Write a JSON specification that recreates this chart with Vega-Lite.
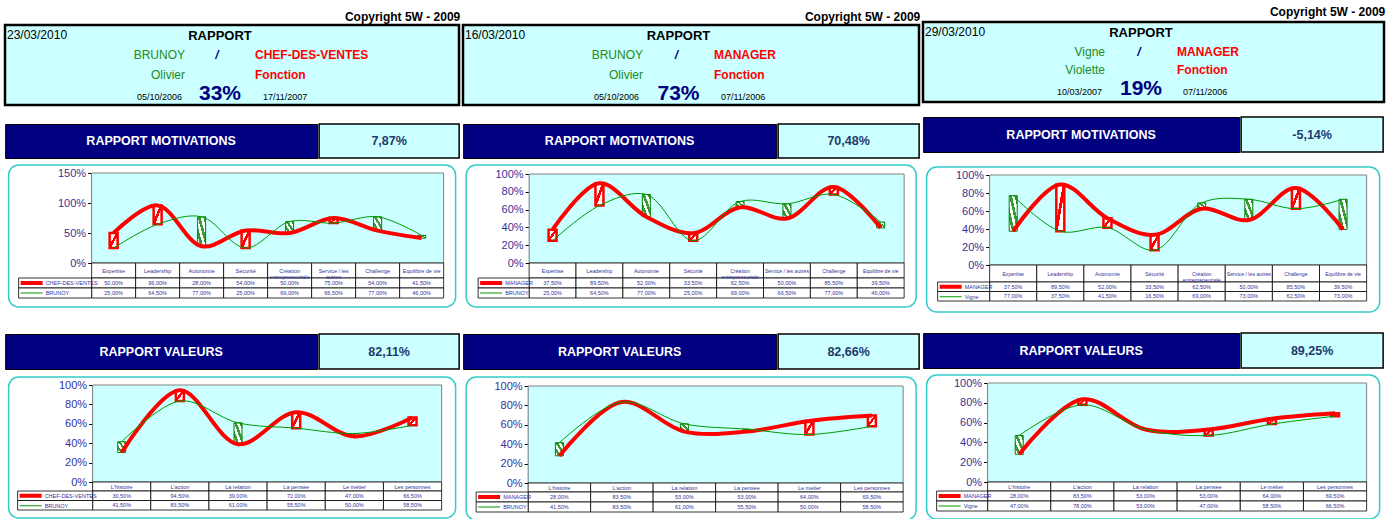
{
"$schema": "https://vega.github.io/schema/vega-lite/v6.json",
"padding": {"left": 3, "top": 5, "right": 0, "bottom": 0},
"background": "#ffffff",
"config": {
 "locale": {"number": {"decimal": ",", "thousands": " ", "grouping": [3], "currency": ["", " €"], "minus": "-"}},
 "font": "Liberation Sans"
},
"datasets": {
 "m1": [
  {"cat": "Expertise", "fonction": 0.5, "personne": 0.25},
  {"cat": "Leadership", "fonction": 0.96, "personne": 0.645},
  {"cat": "Autonomie", "fonction": 0.28, "personne": 0.77},
  {"cat": "Sécurité", "fonction": 0.54, "personne": 0.25},
  {"cat": "Création\nentrepreneuriale", "fonction": 0.5, "personne": 0.69},
  {"cat": "Service / les\nautres", "fonction": 0.75, "personne": 0.665},
  {"cat": "Challenge", "fonction": 0.54, "personne": 0.77},
  {"cat": "Equilibre de vie", "fonction": 0.415, "personne": 0.46}
 ],
 "m2": [
  {"cat": "Expertise", "fonction": 0.375, "personne": 0.25},
  {"cat": "Leadership", "fonction": 0.895, "personne": 0.645},
  {"cat": "Autonomie", "fonction": 0.52, "personne": 0.77},
  {"cat": "Sécurité", "fonction": 0.335, "personne": 0.25},
  {"cat": "Création\nentrepreneuriale", "fonction": 0.625, "personne": 0.69},
  {"cat": "Service / les autres", "fonction": 0.5, "personne": 0.665},
  {"cat": "Challenge", "fonction": 0.855, "personne": 0.77},
  {"cat": "Equilibre de vie", "fonction": 0.395, "personne": 0.46}
 ],
 "m3": [
  {"cat": "Expertise", "fonction": 0.375, "personne": 0.77},
  {"cat": "Leadership", "fonction": 0.895, "personne": 0.375},
  {"cat": "Autonomie", "fonction": 0.52, "personne": 0.415},
  {"cat": "Sécurité", "fonction": 0.335, "personne": 0.165},
  {"cat": "Création\nentrepreneuriale", "fonction": 0.625, "personne": 0.69},
  {"cat": "Service / les autres", "fonction": 0.5, "personne": 0.73},
  {"cat": "Challenge", "fonction": 0.855, "personne": 0.625},
  {"cat": "Equilibre de vie", "fonction": 0.395, "personne": 0.73}
 ],
 "v1": [
  {"cat": "L'histoire", "fonction": 0.305, "personne": 0.415},
  {"cat": "L'action", "fonction": 0.945, "personne": 0.835},
  {"cat": "La relation", "fonction": 0.39, "personne": 0.61},
  {"cat": "La pensée", "fonction": 0.72, "personne": 0.555},
  {"cat": "Le métier", "fonction": 0.47, "personne": 0.5},
  {"cat": "Les personnes", "fonction": 0.665, "personne": 0.585}
 ],
 "v2": [
  {"cat": "L'histoire", "fonction": 0.28, "personne": 0.415},
  {"cat": "L'action", "fonction": 0.835, "personne": 0.835},
  {"cat": "La relation", "fonction": 0.53, "personne": 0.61},
  {"cat": "La pensée", "fonction": 0.53, "personne": 0.555},
  {"cat": "Le métier", "fonction": 0.64, "personne": 0.5},
  {"cat": "Les personnes", "fonction": 0.695, "personne": 0.585}
 ],
 "v3": [
  {"cat": "L'histoire", "fonction": 0.28, "personne": 0.47},
  {"cat": "L'action", "fonction": 0.835, "personne": 0.78},
  {"cat": "La relation", "fonction": 0.53, "personne": 0.53},
  {"cat": "La pensée", "fonction": 0.53, "personne": 0.47},
  {"cat": "Le métier", "fonction": 0.64, "personne": 0.585},
  {"cat": "Les personnes", "fonction": 0.695, "personne": 0.665}
 ]
},
"columns": 3,
"align": "none",
"spacing": 0,
"concat": [
{
 "title": {"text": "Copyright 5W - 2009", "anchor": "end", "fontSize": 12, "fontWeight": "bold", "offset": -2, "color": "#000000"},
 "spacing": 0,
 "vconcat": [
 {"width": 1, "height": 1, "view": {"stroke": null}, "data": {"values": []}, "mark": "point"},
 {
 "spacing": 16,
 "vconcat": [
  {
   "width": 454, "height": 80,
   "view": {"stroke": "#000000", "strokeWidth": 2.5, "fill": "#CCFFFF"},
   "title": {"text": "23/03/2010", "anchor": "start", "offset": -17, "fontSize": 12, "fontWeight": "normal", "color": "#000000", "dx": 2},
   "data": {"values": [{"nom": "BRUNOY", "prenom": "Olivier", "fonction": "CHEF-DES-VENTES", "debut": "05/10/2006", "fin": "17/11/2007", "score": 0.33}]},
   "layer": [
    {"mark": {"type": "text", "text": "RAPPORT", "fontSize": 13, "fontWeight": "bold", "color": "#000000"},
     "encoding": {"x": {"datum": "M", "type": "nominal", "scale": {"type": "point", "domain": ["L", "M", "R"], "range": [180, 250], "padding": 0}, "axis": null},
                  "y": {"datum": "r1", "type": "nominal", "scale": {"type": "point", "domain": ["r1", "r2", "r3", "r4"], "range": [11, 69], "padding": 0}, "axis": null}}},
    {"mark": {"type": "text", "align": "right", "fontSize": 12, "color": "#228B22"},
     "encoding": {"x": {"datum": "L", "type": "nominal"}, "y": {"datum": "r2", "type": "nominal"}, "text": {"field": "nom"}}},
    {"mark": {"type": "text", "align": "right", "fontSize": 12, "color": "#228B22"},
     "encoding": {"x": {"datum": "L", "type": "nominal"}, "y": {"datum": "r3", "type": "nominal"}, "text": {"field": "prenom"}}},
    {"mark": {"type": "text", "text": "/", "fontSize": 12, "fontWeight": "bold", "fontStyle": "italic", "color": "#000080", "dx": -3},
     "encoding": {"x": {"datum": "M", "type": "nominal"}, "y": {"datum": "r2", "type": "nominal"}}},
    {"mark": {"type": "text", "align": "left", "fontSize": 12, "fontWeight": "bold", "color": "#FF0000"},
     "encoding": {"x": {"datum": "R", "type": "nominal"}, "y": {"datum": "r2", "type": "nominal"}, "text": {"field": "fonction"}}},
    {"mark": {"type": "text", "text": "Fonction", "align": "left", "fontSize": 12, "fontWeight": "bold", "color": "#FF0000"},
     "encoding": {"x": {"datum": "R", "type": "nominal"}, "y": {"datum": "r3", "type": "nominal"}}},
    {"mark": {"type": "text", "align": "right", "fontSize": 9, "color": "#000000", "dx": -3, "dy": 3},
     "encoding": {"x": {"datum": "L", "type": "nominal"}, "y": {"datum": "r4", "type": "nominal"}, "text": {"field": "debut"}}},
    {"mark": {"type": "text", "fontSize": 21, "fontWeight": "bold", "color": "#000080"},
     "encoding": {"x": {"datum": "M", "type": "nominal"}, "y": {"datum": "r4", "type": "nominal"}, "text": {"field": "score", "type": "quantitative", "format": ".0%"}}},
    {"mark": {"type": "text", "align": "left", "fontSize": 9, "color": "#000000", "dx": 8, "dy": 3},
     "encoding": {"x": {"datum": "R", "type": "nominal"}, "y": {"datum": "r4", "type": "nominal"}, "text": {"field": "fin"}}}
   ]
  },
  {
   "spacing": 25,
   "vconcat": [
    {
     "spacing": 5, "center": true,
     "vconcat": [
      {"spacing": 0, "hconcat": [
        {"width": 312, "height": 34, "view": {"fill": "#000080", "stroke": "#000000", "strokeWidth": 1},
         "data": {"values": [{"rubrique": "RAPPORT MOTIVATIONS"}]},
         "mark": {"type": "text", "color": "#ffffff", "fontSize": 12.5, "fontWeight": "bold"},
         "encoding": {"text": {"field": "rubrique"}}},
        {"width": 140, "height": 34, "view": {"fill": "#CCFFFF", "stroke": "#000000", "strokeWidth": 1.5},
         "data": {"values": [{"ecart": 0.0787}]},
         "mark": {"type": "text", "color": "#1F3A6E", "fontSize": 12.5, "fontWeight": "bold"},
         "encoding": {"text": {"field": "ecart", "type": "quantitative", "format": ".2%"}}}
      ]},
      {
       "width": 447, "height": 142,
       "view": {"stroke": "#33CCCC", "strokeWidth": 1.5, "cornerRadius": 10, "fill": "#ffffff"},
       "data": {"name": "m1"},
       "resolve": {"scale": {"x": "independent", "y": "independent", "color": "independent", "strokeWidth": "independent"}},
       "layer": [
        {"transform": [{"aggregate": [{"op": "count", "as": "n"}]}],
         "mark": {"type": "rect", "fill": "#CCFFFF", "stroke": "#808080", "strokeWidth": 1},
         "encoding": {
          "x": {"datum": "zone", "type": "nominal", "scale": {"type": "band", "domain": ["zone"], "range": [83, 435], "paddingInner": 0, "paddingOuter": 0}, "axis": null},
          "y": {"datum": 0, "type": "quantitative", "scale": {"domain": [0, 1.5], "range": [98, 8], "nice": false, "zero": false}, "axis": null},
          "y2": {"datum": 1.5}}},
        {"transform": [{"filter": "datum.fonction > datum.personne"}],
         "mark": {"type": "bar", "width": 8, "stroke": "#FF0000", "strokeWidth": 2.5,
                  "fill": {"gradient": "linear", "x1": 0, "y1": 0, "x2": 1, "y2": 1, "stops": [{"offset": 0, "color": "#ffffff"}, {"offset": 0.4, "color": "#ffffff"}, {"offset": 0.4, "color": "#FF0000"}, {"offset": 0.58, "color": "#FF0000"}, {"offset": 0.58, "color": "#ffffff"}, {"offset": 1, "color": "#ffffff"}]}},
         "encoding": {
          "x": {"field": "cat", "type": "nominal", "scale": {"type": "point", "domain": ["Expertise", "Leadership", "Autonomie", "Sécurité", "Création\nentrepreneuriale", "Service / les\nautres", "Challenge", "Equilibre de vie"], "range": [83, 435], "padding": 0.5}, "axis": null},
          "y": {"field": "fonction", "type": "quantitative", "scale": {"domain": [0, 1.5], "range": [98, 8], "nice": false, "zero": false}, "axis": null},
          "y2": {"field": "personne"}}},
        {"transform": [{"filter": "datum.fonction <= datum.personne"}],
         "mark": {"type": "bar", "width": 8, "stroke": "#008000", "strokeWidth": 1,
                  "fill": {"gradient": "linear", "x1": 1, "y1": 0, "x2": 0, "y2": 1, "stops": [{"offset": 0, "color": "#3A9A3A"}, {"offset": 0.16, "color": "#3A9A3A"}, {"offset": 0.16, "color": "#ffffff"}, {"offset": 0.33, "color": "#ffffff"}, {"offset": 0.33, "color": "#3A9A3A"}, {"offset": 0.5, "color": "#3A9A3A"}, {"offset": 0.5, "color": "#ffffff"}, {"offset": 0.66, "color": "#ffffff"}, {"offset": 0.66, "color": "#3A9A3A"}, {"offset": 0.83, "color": "#3A9A3A"}, {"offset": 0.83, "color": "#ffffff"}, {"offset": 1, "color": "#ffffff"}]}},
         "encoding": {
          "x": {"field": "cat", "type": "nominal", "scale": {"type": "point", "domain": ["Expertise", "Leadership", "Autonomie", "Sécurité", "Création\nentrepreneuriale", "Service / les\nautres", "Challenge", "Equilibre de vie"], "range": [83, 435], "padding": 0.5}, "axis": null},
          "y": {"field": "fonction", "type": "quantitative", "scale": {"domain": [0, 1.5], "range": [98, 8], "nice": false, "zero": false}, "axis": null},
          "y2": {"field": "personne"}}},
        {"transform": [{"fold": ["fonction", "personne"], "as": ["serie", "taux"]}],
         "mark": {"type": "line", "interpolate": "catmull-rom"},
         "encoding": {
          "x": {"field": "cat", "type": "nominal", "sort": null, "scale": {"type": "point", "domain": ["Expertise", "Leadership", "Autonomie", "Sécurité", "Création\nentrepreneuriale", "Service / les\nautres", "Challenge", "Equilibre de vie"], "range": [83, 435], "padding": 0.5}, "axis": null},
          "y": {"field": "taux", "type": "quantitative", "scale": {"domain": [0, 1.5], "range": [98, 8], "nice": false, "zero": false},
                "axis": {"orient": "left", "offset": -83, "values": [0, 0.5, 1, 1.5], "format": ".0%", "title": null, "grid": false, "labelFontSize": 11, "labelColor": "#333399", "domainColor": "#000000", "tickColor": "#000000", "tickSize": 4, "labelPadding": 2}},
          "color": {"field": "serie", "type": "nominal", "scale": {"domain": ["fonction", "personne"], "range": ["#FF0000", "#009900"]},
                    "legend": {"orient": "none", "legendX": 10, "legendY": 113, "title": null, "symbolType": "stroke", "symbolSize": 484, "clipHeight": 10, "rowPadding": 0, "labelFontSize": 5.5, "labelColor": "#333399", "labelOffset": 1, "padding": 0, "labelExpr": "datum.value == 'fonction' ? 'CHEF-DES-VENTES' : 'BRUNOY'"}},
          "strokeWidth": {"field": "serie", "type": "nominal", "scale": {"type": "point", "domain": ["fonction", "personne"], "range": [4, 1], "padding": 0},
                    "legend": {"orient": "none", "legendX": 10, "legendY": 113, "title": null, "symbolType": "stroke", "symbolSize": 484, "clipHeight": 10, "rowPadding": 0, "labelFontSize": 5.5, "labelColor": "#333399", "labelOffset": 1, "padding": 0, "labelExpr": "datum.value == 'fonction' ? 'CHEF-DES-VENTES' : 'BRUNOY'"}}}},
        {"mark": {"type": "rect", "fill": "#ffffff", "stroke": "#000000", "strokeWidth": 0.8},
         "encoding": {
          "x": {"field": "cat", "type": "nominal", "scale": {"type": "band", "domain": ["Expertise", "Leadership", "Autonomie", "Sécurité", "Création\nentrepreneuriale", "Service / les\nautres", "Challenge", "Equilibre de vie"], "range": [83, 435], "paddingInner": 0, "paddingOuter": 0}, "axis": null},
          "y": {"datum": "entete", "type": "nominal", "scale": {"type": "band", "domain": ["entete"], "range": [98, 113], "paddingInner": 0, "paddingOuter": 0}, "axis": null}}},
        {"transform": [{"fold": ["fonction", "personne"], "as": ["serie", "taux"]}],
         "mark": {"type": "rect", "fill": "#ffffff", "stroke": "#000000", "strokeWidth": 0.8},
         "encoding": {
          "x": {"field": "cat", "type": "nominal", "scale": {"type": "band", "domain": ["Expertise", "Leadership", "Autonomie", "Sécurité", "Création\nentrepreneuriale", "Service / les\nautres", "Challenge", "Equilibre de vie"], "range": [83, 435], "paddingInner": 0, "paddingOuter": 0}, "axis": null},
          "y": {"field": "serie", "type": "nominal", "scale": {"type": "band", "domain": ["fonction", "personne"], "range": [113, 133], "paddingInner": 0, "paddingOuter": 0}, "axis": null}}},
        {"transform": [{"fold": ["fonction", "personne"], "as": ["serie", "taux"]}, {"aggregate": [{"op": "count", "as": "n"}], "groupby": ["serie"]}],
         "mark": {"type": "rect", "fill": "#ffffff", "stroke": "#000000", "strokeWidth": 0.8},
         "encoding": {
          "x": {"datum": "legende", "type": "nominal", "scale": {"type": "band", "domain": ["legende"], "range": [10, 83], "paddingInner": 0, "paddingOuter": 0}, "axis": null},
          "y": {"field": "serie", "type": "nominal", "scale": {"type": "band", "domain": ["fonction", "personne"], "range": [113, 133], "paddingInner": 0, "paddingOuter": 0}, "axis": null}}},
        {"mark": {"type": "text", "fontSize": 5.5, "color": "#333399", "lineBreak": "\n", "lineHeight": 6, "baseline": "middle", "align": "center"},
         "encoding": {
          "x": {"field": "cat", "type": "nominal", "bandPosition": 0.5, "scale": {"type": "band", "domain": ["Expertise", "Leadership", "Autonomie", "Sécurité", "Création\nentrepreneuriale", "Service / les\nautres", "Challenge", "Equilibre de vie"], "range": [83, 435], "paddingInner": 0, "paddingOuter": 0}, "axis": null},
          "y": {"datum": "entete", "type": "nominal", "bandPosition": 0.5, "scale": {"type": "band", "domain": ["entete"], "range": [98, 113], "paddingInner": 0, "paddingOuter": 0}, "axis": null},
          "text": {"field": "cat"}}},
        {"transform": [{"fold": ["fonction", "personne"], "as": ["serie", "taux"]}],
         "mark": {"type": "text", "fontSize": 5.5, "color": "#333399", "baseline": "middle", "align": "center"},
         "encoding": {
          "x": {"field": "cat", "type": "nominal", "bandPosition": 0.5, "scale": {"type": "band", "domain": ["Expertise", "Leadership", "Autonomie", "Sécurité", "Création\nentrepreneuriale", "Service / les\nautres", "Challenge", "Equilibre de vie"], "range": [83, 435], "paddingInner": 0, "paddingOuter": 0}, "axis": null},
          "y": {"field": "serie", "type": "nominal", "bandPosition": 0.5, "scale": {"type": "band", "domain": ["fonction", "personne"], "range": [113, 133], "paddingInner": 0, "paddingOuter": 0}, "axis": null},
          "text": {"field": "taux", "type": "quantitative", "format": ".2%"}}}
       ]
      }
     ]
    },
    {
     "spacing": 6, "center": true,
     "vconcat": [
      {"spacing": 0, "hconcat": [
        {"width": 312, "height": 35, "view": {"fill": "#000080", "stroke": "#000000", "strokeWidth": 1},
         "data": {"values": [{"rubrique": "RAPPORT VALEURS"}]},
         "mark": {"type": "text", "color": "#ffffff", "fontSize": 12.5, "fontWeight": "bold"},
         "encoding": {"text": {"field": "rubrique"}}},
        {"width": 140, "height": 35, "view": {"fill": "#CCFFFF", "stroke": "#000000", "strokeWidth": 1.5},
         "data": {"values": [{"ecart": 0.8211}]},
         "mark": {"type": "text", "color": "#1F3A6E", "fontSize": 12.5, "fontWeight": "bold"},
         "encoding": {"text": {"field": "ecart", "type": "quantitative", "format": ".2%"}}}
      ]},
      {
       "width": 447, "height": 141,
       "view": {"stroke": "#33CCCC", "strokeWidth": 1.5, "cornerRadius": 10, "fill": "#ffffff"},
       "data": {"name": "v1"},
       "resolve": {"scale": {"x": "independent", "y": "independent", "color": "independent", "strokeWidth": "independent"}},
       "layer": [
        {"transform": [{"aggregate": [{"op": "count", "as": "n"}]}],
         "mark": {"type": "rect", "fill": "#CCFFFF", "stroke": "#808080", "strokeWidth": 1},
         "encoding": {
          "x": {"datum": "zone", "type": "nominal", "scale": {"type": "band", "domain": ["zone"], "range": [84, 433], "paddingInner": 0, "paddingOuter": 0}, "axis": null},
          "y": {"datum": 0, "type": "quantitative", "scale": {"domain": [0, 1], "range": [105, 8], "nice": false, "zero": false}, "axis": null},
          "y2": {"datum": 1}}},
        {"transform": [{"filter": "datum.fonction > datum.personne"}],
         "mark": {"type": "bar", "width": 8, "stroke": "#FF0000", "strokeWidth": 2.5,
                  "fill": {"gradient": "linear", "x1": 0, "y1": 0, "x2": 1, "y2": 1, "stops": [{"offset": 0, "color": "#ffffff"}, {"offset": 0.4, "color": "#ffffff"}, {"offset": 0.4, "color": "#FF0000"}, {"offset": 0.58, "color": "#FF0000"}, {"offset": 0.58, "color": "#ffffff"}, {"offset": 1, "color": "#ffffff"}]}},
         "encoding": {
          "x": {"field": "cat", "type": "nominal", "scale": {"type": "point", "domain": ["L'histoire", "L'action", "La relation", "La pensée", "Le métier", "Les personnes"], "range": [84, 433], "padding": 0.5}, "axis": null},
          "y": {"field": "fonction", "type": "quantitative", "scale": {"domain": [0, 1], "range": [105, 8], "nice": false, "zero": false}, "axis": null},
          "y2": {"field": "personne"}}},
        {"transform": [{"filter": "datum.fonction <= datum.personne"}],
         "mark": {"type": "bar", "width": 8, "stroke": "#008000", "strokeWidth": 1,
                  "fill": {"gradient": "linear", "x1": 1, "y1": 0, "x2": 0, "y2": 1, "stops": [{"offset": 0, "color": "#3A9A3A"}, {"offset": 0.16, "color": "#3A9A3A"}, {"offset": 0.16, "color": "#ffffff"}, {"offset": 0.33, "color": "#ffffff"}, {"offset": 0.33, "color": "#3A9A3A"}, {"offset": 0.5, "color": "#3A9A3A"}, {"offset": 0.5, "color": "#ffffff"}, {"offset": 0.66, "color": "#ffffff"}, {"offset": 0.66, "color": "#3A9A3A"}, {"offset": 0.83, "color": "#3A9A3A"}, {"offset": 0.83, "color": "#ffffff"}, {"offset": 1, "color": "#ffffff"}]}},
         "encoding": {
          "x": {"field": "cat", "type": "nominal", "scale": {"type": "point", "domain": ["L'histoire", "L'action", "La relation", "La pensée", "Le métier", "Les personnes"], "range": [84, 433], "padding": 0.5}, "axis": null},
          "y": {"field": "fonction", "type": "quantitative", "scale": {"domain": [0, 1], "range": [105, 8], "nice": false, "zero": false}, "axis": null},
          "y2": {"field": "personne"}}},
        {"transform": [{"fold": ["fonction", "personne"], "as": ["serie", "taux"]}],
         "mark": {"type": "line", "interpolate": "catmull-rom"},
         "encoding": {
          "x": {"field": "cat", "type": "nominal", "sort": null, "scale": {"type": "point", "domain": ["L'histoire", "L'action", "La relation", "La pensée", "Le métier", "Les personnes"], "range": [84, 433], "padding": 0.5}, "axis": null},
          "y": {"field": "taux", "type": "quantitative", "scale": {"domain": [0, 1], "range": [105, 8], "nice": false, "zero": false},
                "axis": {"orient": "left", "offset": -84, "values": [0, 0.2, 0.4, 0.6, 0.8, 1], "format": ".0%", "title": null, "grid": false, "labelFontSize": 11, "labelColor": "#333399", "domainColor": "#000000", "tickColor": "#000000", "tickSize": 4, "labelPadding": 2}},
          "color": {"field": "serie", "type": "nominal", "scale": {"domain": ["fonction", "personne"], "range": ["#FF0000", "#009900"]},
                    "legend": {"orient": "none", "legendX": 9, "legendY": 114, "title": null, "symbolType": "stroke", "symbolSize": 484, "clipHeight": 9.5, "rowPadding": 0, "labelFontSize": 5.5, "labelColor": "#333399", "labelOffset": 1, "padding": 0, "labelExpr": "datum.value == 'fonction' ? 'CHEF-DES-VENTES' : 'BRUNOY'"}},
          "strokeWidth": {"field": "serie", "type": "nominal", "scale": {"type": "point", "domain": ["fonction", "personne"], "range": [4, 1], "padding": 0},
                    "legend": {"orient": "none", "legendX": 9, "legendY": 114, "title": null, "symbolType": "stroke", "symbolSize": 484, "clipHeight": 9.5, "rowPadding": 0, "labelFontSize": 5.5, "labelColor": "#333399", "labelOffset": 1, "padding": 0, "labelExpr": "datum.value == 'fonction' ? 'CHEF-DES-VENTES' : 'BRUNOY'"}}}},
        {"mark": {"type": "rect", "fill": "#ffffff", "stroke": "#000000", "strokeWidth": 0.8},
         "encoding": {
          "x": {"field": "cat", "type": "nominal", "scale": {"type": "band", "domain": ["L'histoire", "L'action", "La relation", "La pensée", "Le métier", "Les personnes"], "range": [84, 433], "paddingInner": 0, "paddingOuter": 0}, "axis": null},
          "y": {"datum": "entete", "type": "nominal", "scale": {"type": "band", "domain": ["entete"], "range": [105, 114], "paddingInner": 0, "paddingOuter": 0}, "axis": null}}},
        {"transform": [{"fold": ["fonction", "personne"], "as": ["serie", "taux"]}],
         "mark": {"type": "rect", "fill": "#ffffff", "stroke": "#000000", "strokeWidth": 0.8},
         "encoding": {
          "x": {"field": "cat", "type": "nominal", "scale": {"type": "band", "domain": ["L'histoire", "L'action", "La relation", "La pensée", "Le métier", "Les personnes"], "range": [84, 433], "paddingInner": 0, "paddingOuter": 0}, "axis": null},
          "y": {"field": "serie", "type": "nominal", "scale": {"type": "band", "domain": ["fonction", "personne"], "range": [114, 133], "paddingInner": 0, "paddingOuter": 0}, "axis": null}}},
        {"transform": [{"fold": ["fonction", "personne"], "as": ["serie", "taux"]}, {"aggregate": [{"op": "count", "as": "n"}], "groupby": ["serie"]}],
         "mark": {"type": "rect", "fill": "#ffffff", "stroke": "#000000", "strokeWidth": 0.8},
         "encoding": {
          "x": {"datum": "legende", "type": "nominal", "scale": {"type": "band", "domain": ["legende"], "range": [9, 84], "paddingInner": 0, "paddingOuter": 0}, "axis": null},
          "y": {"field": "serie", "type": "nominal", "scale": {"type": "band", "domain": ["fonction", "personne"], "range": [114, 133], "paddingInner": 0, "paddingOuter": 0}, "axis": null}}},
        {"mark": {"type": "text", "fontSize": 5.5, "color": "#333399", "baseline": "middle", "align": "center"},
         "encoding": {
          "x": {"field": "cat", "type": "nominal", "bandPosition": 0.5, "scale": {"type": "band", "domain": ["L'histoire", "L'action", "La relation", "La pensée", "Le métier", "Les personnes"], "range": [84, 433], "paddingInner": 0, "paddingOuter": 0}, "axis": null},
          "y": {"datum": "entete", "type": "nominal", "bandPosition": 0.5, "scale": {"type": "band", "domain": ["entete"], "range": [105, 114], "paddingInner": 0, "paddingOuter": 0}, "axis": null},
          "text": {"field": "cat"}}},
        {"transform": [{"fold": ["fonction", "personne"], "as": ["serie", "taux"]}],
         "mark": {"type": "text", "fontSize": 5.5, "color": "#333399", "baseline": "middle", "align": "center"},
         "encoding": {
          "x": {"field": "cat", "type": "nominal", "bandPosition": 0.5, "scale": {"type": "band", "domain": ["L'histoire", "L'action", "La relation", "La pensée", "Le métier", "Les personnes"], "range": [84, 433], "paddingInner": 0, "paddingOuter": 0}, "axis": null},
          "y": {"field": "serie", "type": "nominal", "bandPosition": 0.5, "scale": {"type": "band", "domain": ["fonction", "personne"], "range": [114, 133], "paddingInner": 0, "paddingOuter": 0}, "axis": null},
          "text": {"field": "taux", "type": "quantitative", "format": ".2%"}}}
       ]
      }
     ]
    }
   ]
  }
 ]
 }
 ]
},
{
 "title": {"text": "Copyright 5W - 2009", "anchor": "end", "fontSize": 12, "fontWeight": "bold", "offset": -2, "color": "#000000"},
 "spacing": 0,
 "vconcat": [
 {"width": 1, "height": 1, "view": {"stroke": null}, "data": {"values": []}, "mark": "point"},
 {
 "spacing": 16,
 "vconcat": [
  {
   "width": 456, "height": 80,
   "view": {"stroke": "#000000", "strokeWidth": 2.5, "fill": "#CCFFFF"},
   "title": {"text": "16/03/2010", "anchor": "start", "offset": -17, "fontSize": 12, "fontWeight": "normal", "color": "#000000", "dx": 2},
   "data": {"values": [{"nom": "BRUNOY", "prenom": "Olivier", "fonction": "MANAGER", "debut": "05/10/2006", "fin": "07/11/2006", "score": 0.73}]},
   "layer": [
    {"mark": {"type": "text", "text": "RAPPORT", "fontSize": 13, "fontWeight": "bold", "color": "#000000"},
     "encoding": {"x": {"datum": "M", "type": "nominal", "scale": {"type": "point", "domain": ["L", "M", "R"], "range": [180, 251], "padding": 0}, "axis": null},
                  "y": {"datum": "r1", "type": "nominal", "scale": {"type": "point", "domain": ["r1", "r2", "r3", "r4"], "range": [11, 69], "padding": 0}, "axis": null}}},
    {"mark": {"type": "text", "align": "right", "fontSize": 12, "color": "#228B22"},
     "encoding": {"x": {"datum": "L", "type": "nominal"}, "y": {"datum": "r2", "type": "nominal"}, "text": {"field": "nom"}}},
    {"mark": {"type": "text", "align": "right", "fontSize": 12, "color": "#228B22"},
     "encoding": {"x": {"datum": "L", "type": "nominal"}, "y": {"datum": "r3", "type": "nominal"}, "text": {"field": "prenom"}}},
    {"mark": {"type": "text", "text": "/", "fontSize": 12, "fontWeight": "bold", "fontStyle": "italic", "color": "#000080", "dx": -2},
     "encoding": {"x": {"datum": "M", "type": "nominal"}, "y": {"datum": "r2", "type": "nominal"}}},
    {"mark": {"type": "text", "align": "left", "fontSize": 12, "fontWeight": "bold", "color": "#FF0000"},
     "encoding": {"x": {"datum": "R", "type": "nominal"}, "y": {"datum": "r2", "type": "nominal"}, "text": {"field": "fonction"}}},
    {"mark": {"type": "text", "text": "Fonction", "align": "left", "fontSize": 12, "fontWeight": "bold", "color": "#FF0000"},
     "encoding": {"x": {"datum": "R", "type": "nominal"}, "y": {"datum": "r3", "type": "nominal"}}},
    {"mark": {"type": "text", "align": "right", "fontSize": 9, "color": "#000000", "dx": -4, "dy": 3},
     "encoding": {"x": {"datum": "L", "type": "nominal"}, "y": {"datum": "r4", "type": "nominal"}, "text": {"field": "debut"}}},
    {"mark": {"type": "text", "fontSize": 21, "fontWeight": "bold", "color": "#000080"},
     "encoding": {"x": {"datum": "M", "type": "nominal"}, "y": {"datum": "r4", "type": "nominal"}, "text": {"field": "score", "type": "quantitative", "format": ".0%"}}},
    {"mark": {"type": "text", "align": "left", "fontSize": 9, "color": "#000000", "dx": 7, "dy": 3},
     "encoding": {"x": {"datum": "R", "type": "nominal"}, "y": {"datum": "r4", "type": "nominal"}, "text": {"field": "fin"}}}
   ]
  },
  {
   "spacing": 25,
   "vconcat": [
    {
     "spacing": 5, "center": true,
     "vconcat": [
      {"spacing": 0, "hconcat": [
        {"width": 313, "height": 34, "view": {"fill": "#000080", "stroke": "#000000", "strokeWidth": 1},
         "data": {"values": [{"rubrique": "RAPPORT MOTIVATIONS"}]},
         "mark": {"type": "text", "color": "#ffffff", "fontSize": 12.5, "fontWeight": "bold"},
         "encoding": {"text": {"field": "rubrique"}}},
        {"width": 141, "height": 34, "view": {"fill": "#CCFFFF", "stroke": "#000000", "strokeWidth": 1.5},
         "data": {"values": [{"ecart": 0.7048}]},
         "mark": {"type": "text", "color": "#1F3A6E", "fontSize": 12.5, "fontWeight": "bold"},
         "encoding": {"text": {"field": "ecart", "type": "quantitative", "format": ".2%"}}}
      ]},
      {
       "width": 450, "height": 142,
       "view": {"stroke": "#33CCCC", "strokeWidth": 1.5, "cornerRadius": 10, "fill": "#ffffff"},
       "data": {"name": "m2"},
       "resolve": {"scale": {"x": "independent", "y": "independent", "color": "independent", "strokeWidth": "independent"}},
       "layer": [
        {"transform": [{"aggregate": [{"op": "count", "as": "n"}]}],
         "mark": {"type": "rect", "fill": "#CCFFFF", "stroke": "#808080", "strokeWidth": 1},
         "encoding": {
          "x": {"datum": "zone", "type": "nominal", "scale": {"type": "band", "domain": ["zone"], "range": [63, 438], "paddingInner": 0, "paddingOuter": 0}, "axis": null},
          "y": {"datum": 0, "type": "quantitative", "scale": {"domain": [0, 1], "range": [98, 9], "nice": false, "zero": false}, "axis": null},
          "y2": {"datum": 1}}},
        {"transform": [{"filter": "datum.fonction > datum.personne"}],
         "mark": {"type": "bar", "width": 8, "stroke": "#FF0000", "strokeWidth": 2.5,
                  "fill": {"gradient": "linear", "x1": 0, "y1": 0, "x2": 1, "y2": 1, "stops": [{"offset": 0, "color": "#ffffff"}, {"offset": 0.4, "color": "#ffffff"}, {"offset": 0.4, "color": "#FF0000"}, {"offset": 0.58, "color": "#FF0000"}, {"offset": 0.58, "color": "#ffffff"}, {"offset": 1, "color": "#ffffff"}]}},
         "encoding": {
          "x": {"field": "cat", "type": "nominal", "scale": {"type": "point", "domain": ["Expertise", "Leadership", "Autonomie", "Sécurité", "Création\nentrepreneuriale", "Service / les autres", "Challenge", "Equilibre de vie"], "range": [63, 438], "padding": 0.5}, "axis": null},
          "y": {"field": "fonction", "type": "quantitative", "scale": {"domain": [0, 1], "range": [98, 9], "nice": false, "zero": false}, "axis": null},
          "y2": {"field": "personne"}}},
        {"transform": [{"filter": "datum.fonction <= datum.personne"}],
         "mark": {"type": "bar", "width": 8, "stroke": "#008000", "strokeWidth": 1,
                  "fill": {"gradient": "linear", "x1": 1, "y1": 0, "x2": 0, "y2": 1, "stops": [{"offset": 0, "color": "#3A9A3A"}, {"offset": 0.16, "color": "#3A9A3A"}, {"offset": 0.16, "color": "#ffffff"}, {"offset": 0.33, "color": "#ffffff"}, {"offset": 0.33, "color": "#3A9A3A"}, {"offset": 0.5, "color": "#3A9A3A"}, {"offset": 0.5, "color": "#ffffff"}, {"offset": 0.66, "color": "#ffffff"}, {"offset": 0.66, "color": "#3A9A3A"}, {"offset": 0.83, "color": "#3A9A3A"}, {"offset": 0.83, "color": "#ffffff"}, {"offset": 1, "color": "#ffffff"}]}},
         "encoding": {
          "x": {"field": "cat", "type": "nominal", "scale": {"type": "point", "domain": ["Expertise", "Leadership", "Autonomie", "Sécurité", "Création\nentrepreneuriale", "Service / les autres", "Challenge", "Equilibre de vie"], "range": [63, 438], "padding": 0.5}, "axis": null},
          "y": {"field": "fonction", "type": "quantitative", "scale": {"domain": [0, 1], "range": [98, 9], "nice": false, "zero": false}, "axis": null},
          "y2": {"field": "personne"}}},
        {"transform": [{"fold": ["fonction", "personne"], "as": ["serie", "taux"]}],
         "mark": {"type": "line", "interpolate": "catmull-rom"},
         "encoding": {
          "x": {"field": "cat", "type": "nominal", "sort": null, "scale": {"type": "point", "domain": ["Expertise", "Leadership", "Autonomie", "Sécurité", "Création\nentrepreneuriale", "Service / les autres", "Challenge", "Equilibre de vie"], "range": [63, 438], "padding": 0.5}, "axis": null},
          "y": {"field": "taux", "type": "quantitative", "scale": {"domain": [0, 1], "range": [98, 9], "nice": false, "zero": false},
                "axis": {"orient": "left", "offset": -63, "values": [0, 0.2, 0.4, 0.6, 0.8, 1], "format": ".0%", "title": null, "grid": false, "labelFontSize": 11, "labelColor": "#333399", "domainColor": "#000000", "tickColor": "#000000", "tickSize": 4, "labelPadding": 2}},
          "color": {"field": "serie", "type": "nominal", "scale": {"domain": ["fonction", "personne"], "range": ["#FF0000", "#009900"]},
                    "legend": {"orient": "none", "legendX": 12, "legendY": 113, "title": null, "symbolType": "stroke", "symbolSize": 484, "clipHeight": 10, "rowPadding": 0, "labelFontSize": 5.5, "labelColor": "#333399", "labelOffset": 1, "padding": 0, "labelExpr": "datum.value == 'fonction' ? 'MANAGER' : 'BRUNOY'"}},
          "strokeWidth": {"field": "serie", "type": "nominal", "scale": {"type": "point", "domain": ["fonction", "personne"], "range": [4, 1], "padding": 0},
                    "legend": {"orient": "none", "legendX": 12, "legendY": 113, "title": null, "symbolType": "stroke", "symbolSize": 484, "clipHeight": 10, "rowPadding": 0, "labelFontSize": 5.5, "labelColor": "#333399", "labelOffset": 1, "padding": 0, "labelExpr": "datum.value == 'fonction' ? 'MANAGER' : 'BRUNOY'"}}}},
        {"mark": {"type": "rect", "fill": "#ffffff", "stroke": "#000000", "strokeWidth": 0.8},
         "encoding": {
          "x": {"field": "cat", "type": "nominal", "scale": {"type": "band", "domain": ["Expertise", "Leadership", "Autonomie", "Sécurité", "Création\nentrepreneuriale", "Service / les autres", "Challenge", "Equilibre de vie"], "range": [63, 438], "paddingInner": 0, "paddingOuter": 0}, "axis": null},
          "y": {"datum": "entete", "type": "nominal", "scale": {"type": "band", "domain": ["entete"], "range": [98, 113], "paddingInner": 0, "paddingOuter": 0}, "axis": null}}},
        {"transform": [{"fold": ["fonction", "personne"], "as": ["serie", "taux"]}],
         "mark": {"type": "rect", "fill": "#ffffff", "stroke": "#000000", "strokeWidth": 0.8},
         "encoding": {
          "x": {"field": "cat", "type": "nominal", "scale": {"type": "band", "domain": ["Expertise", "Leadership", "Autonomie", "Sécurité", "Création\nentrepreneuriale", "Service / les autres", "Challenge", "Equilibre de vie"], "range": [63, 438], "paddingInner": 0, "paddingOuter": 0}, "axis": null},
          "y": {"field": "serie", "type": "nominal", "scale": {"type": "band", "domain": ["fonction", "personne"], "range": [113, 133], "paddingInner": 0, "paddingOuter": 0}, "axis": null}}},
        {"transform": [{"fold": ["fonction", "personne"], "as": ["serie", "taux"]}, {"aggregate": [{"op": "count", "as": "n"}], "groupby": ["serie"]}],
         "mark": {"type": "rect", "fill": "#ffffff", "stroke": "#000000", "strokeWidth": 0.8},
         "encoding": {
          "x": {"datum": "legende", "type": "nominal", "scale": {"type": "band", "domain": ["legende"], "range": [12, 63], "paddingInner": 0, "paddingOuter": 0}, "axis": null},
          "y": {"field": "serie", "type": "nominal", "scale": {"type": "band", "domain": ["fonction", "personne"], "range": [113, 133], "paddingInner": 0, "paddingOuter": 0}, "axis": null}}},
        {"mark": {"type": "text", "fontSize": 5.2, "color": "#333399", "lineBreak": "\n", "lineHeight": 6, "baseline": "middle", "align": "center"},
         "encoding": {
          "x": {"field": "cat", "type": "nominal", "bandPosition": 0.5, "scale": {"type": "band", "domain": ["Expertise", "Leadership", "Autonomie", "Sécurité", "Création\nentrepreneuriale", "Service / les autres", "Challenge", "Equilibre de vie"], "range": [63, 438], "paddingInner": 0, "paddingOuter": 0}, "axis": null},
          "y": {"datum": "entete", "type": "nominal", "bandPosition": 0.5, "scale": {"type": "band", "domain": ["entete"], "range": [98, 113], "paddingInner": 0, "paddingOuter": 0}, "axis": null},
          "text": {"field": "cat"}}},
        {"transform": [{"fold": ["fonction", "personne"], "as": ["serie", "taux"]}],
         "mark": {"type": "text", "fontSize": 5.5, "color": "#333399", "baseline": "middle", "align": "center"},
         "encoding": {
          "x": {"field": "cat", "type": "nominal", "bandPosition": 0.5, "scale": {"type": "band", "domain": ["Expertise", "Leadership", "Autonomie", "Sécurité", "Création\nentrepreneuriale", "Service / les autres", "Challenge", "Equilibre de vie"], "range": [63, 438], "paddingInner": 0, "paddingOuter": 0}, "axis": null},
          "y": {"field": "serie", "type": "nominal", "bandPosition": 0.5, "scale": {"type": "band", "domain": ["fonction", "personne"], "range": [113, 133], "paddingInner": 0, "paddingOuter": 0}, "axis": null},
          "text": {"field": "taux", "type": "quantitative", "format": ".2%"}}}
       ]
      }
     ]
    },
    {
     "spacing": 6, "center": true,
     "vconcat": [
      {"spacing": 0, "hconcat": [
        {"width": 313, "height": 35, "view": {"fill": "#000080", "stroke": "#000000", "strokeWidth": 1},
         "data": {"values": [{"rubrique": "RAPPORT VALEURS"}]},
         "mark": {"type": "text", "color": "#ffffff", "fontSize": 12.5, "fontWeight": "bold"},
         "encoding": {"text": {"field": "rubrique"}}},
        {"width": 141, "height": 35, "view": {"fill": "#CCFFFF", "stroke": "#000000", "strokeWidth": 1.5},
         "data": {"values": [{"ecart": 0.8266}]},
         "mark": {"type": "text", "color": "#1F3A6E", "fontSize": 12.5, "fontWeight": "bold"},
         "encoding": {"text": {"field": "ecart", "type": "quantitative", "format": ".2%"}}}
      ]},
      {
       "width": 450, "height": 143,
       "view": {"stroke": "#33CCCC", "strokeWidth": 1.5, "cornerRadius": 10, "fill": "#ffffff"},
       "data": {"name": "v2"},
       "resolve": {"scale": {"x": "independent", "y": "independent", "color": "independent", "strokeWidth": "independent"}},
       "layer": [
        {"transform": [{"aggregate": [{"op": "count", "as": "n"}]}],
         "mark": {"type": "rect", "fill": "#CCFFFF", "stroke": "#808080", "strokeWidth": 1},
         "encoding": {
          "x": {"datum": "zone", "type": "nominal", "scale": {"type": "band", "domain": ["zone"], "range": [62, 437], "paddingInner": 0, "paddingOuter": 0}, "axis": null},
          "y": {"datum": 0, "type": "quantitative", "scale": {"domain": [0, 1], "range": [106, 9], "nice": false, "zero": false}, "axis": null},
          "y2": {"datum": 1}}},
        {"transform": [{"filter": "datum.fonction > datum.personne"}],
         "mark": {"type": "bar", "width": 8, "stroke": "#FF0000", "strokeWidth": 2.5,
                  "fill": {"gradient": "linear", "x1": 0, "y1": 0, "x2": 1, "y2": 1, "stops": [{"offset": 0, "color": "#ffffff"}, {"offset": 0.4, "color": "#ffffff"}, {"offset": 0.4, "color": "#FF0000"}, {"offset": 0.58, "color": "#FF0000"}, {"offset": 0.58, "color": "#ffffff"}, {"offset": 1, "color": "#ffffff"}]}},
         "encoding": {
          "x": {"field": "cat", "type": "nominal", "scale": {"type": "point", "domain": ["L'histoire", "L'action", "La relation", "La pensée", "Le métier", "Les personnes"], "range": [62, 437], "padding": 0.5}, "axis": null},
          "y": {"field": "fonction", "type": "quantitative", "scale": {"domain": [0, 1], "range": [106, 9], "nice": false, "zero": false}, "axis": null},
          "y2": {"field": "personne"}}},
        {"transform": [{"filter": "datum.fonction <= datum.personne"}],
         "mark": {"type": "bar", "width": 8, "stroke": "#008000", "strokeWidth": 1,
                  "fill": {"gradient": "linear", "x1": 1, "y1": 0, "x2": 0, "y2": 1, "stops": [{"offset": 0, "color": "#3A9A3A"}, {"offset": 0.16, "color": "#3A9A3A"}, {"offset": 0.16, "color": "#ffffff"}, {"offset": 0.33, "color": "#ffffff"}, {"offset": 0.33, "color": "#3A9A3A"}, {"offset": 0.5, "color": "#3A9A3A"}, {"offset": 0.5, "color": "#ffffff"}, {"offset": 0.66, "color": "#ffffff"}, {"offset": 0.66, "color": "#3A9A3A"}, {"offset": 0.83, "color": "#3A9A3A"}, {"offset": 0.83, "color": "#ffffff"}, {"offset": 1, "color": "#ffffff"}]}},
         "encoding": {
          "x": {"field": "cat", "type": "nominal", "scale": {"type": "point", "domain": ["L'histoire", "L'action", "La relation", "La pensée", "Le métier", "Les personnes"], "range": [62, 437], "padding": 0.5}, "axis": null},
          "y": {"field": "fonction", "type": "quantitative", "scale": {"domain": [0, 1], "range": [106, 9], "nice": false, "zero": false}, "axis": null},
          "y2": {"field": "personne"}}},
        {"transform": [{"fold": ["fonction", "personne"], "as": ["serie", "taux"]}],
         "mark": {"type": "line", "interpolate": "catmull-rom"},
         "encoding": {
          "x": {"field": "cat", "type": "nominal", "sort": null, "scale": {"type": "point", "domain": ["L'histoire", "L'action", "La relation", "La pensée", "Le métier", "Les personnes"], "range": [62, 437], "padding": 0.5}, "axis": null},
          "y": {"field": "taux", "type": "quantitative", "scale": {"domain": [0, 1], "range": [106, 9], "nice": false, "zero": false},
                "axis": {"orient": "left", "offset": -62, "values": [0, 0.2, 0.4, 0.6, 0.8, 1], "format": ".0%", "title": null, "grid": false, "labelFontSize": 11, "labelColor": "#333399", "domainColor": "#000000", "tickColor": "#000000", "tickSize": 4, "labelPadding": 2}},
          "color": {"field": "serie", "type": "nominal", "scale": {"domain": ["fonction", "personne"], "range": ["#FF0000", "#009900"]},
                    "legend": {"orient": "none", "legendX": 10, "legendY": 115, "title": null, "symbolType": "stroke", "symbolSize": 484, "clipHeight": 10, "rowPadding": 0, "labelFontSize": 5.5, "labelColor": "#333399", "labelOffset": 1, "padding": 0, "labelExpr": "datum.value == 'fonction' ? 'MANAGER' : 'BRUNOY'"}},
          "strokeWidth": {"field": "serie", "type": "nominal", "scale": {"type": "point", "domain": ["fonction", "personne"], "range": [4, 1], "padding": 0},
                    "legend": {"orient": "none", "legendX": 10, "legendY": 115, "title": null, "symbolType": "stroke", "symbolSize": 484, "clipHeight": 10, "rowPadding": 0, "labelFontSize": 5.5, "labelColor": "#333399", "labelOffset": 1, "padding": 0, "labelExpr": "datum.value == 'fonction' ? 'MANAGER' : 'BRUNOY'"}}}},
        {"mark": {"type": "rect", "fill": "#ffffff", "stroke": "#000000", "strokeWidth": 0.8},
         "encoding": {
          "x": {"field": "cat", "type": "nominal", "scale": {"type": "band", "domain": ["L'histoire", "L'action", "La relation", "La pensée", "Le métier", "Les personnes"], "range": [62, 437], "paddingInner": 0, "paddingOuter": 0}, "axis": null},
          "y": {"datum": "entete", "type": "nominal", "scale": {"type": "band", "domain": ["entete"], "range": [106, 115], "paddingInner": 0, "paddingOuter": 0}, "axis": null}}},
        {"transform": [{"fold": ["fonction", "personne"], "as": ["serie", "taux"]}],
         "mark": {"type": "rect", "fill": "#ffffff", "stroke": "#000000", "strokeWidth": 0.8},
         "encoding": {
          "x": {"field": "cat", "type": "nominal", "scale": {"type": "band", "domain": ["L'histoire", "L'action", "La relation", "La pensée", "Le métier", "Les personnes"], "range": [62, 437], "paddingInner": 0, "paddingOuter": 0}, "axis": null},
          "y": {"field": "serie", "type": "nominal", "scale": {"type": "band", "domain": ["fonction", "personne"], "range": [115, 135], "paddingInner": 0, "paddingOuter": 0}, "axis": null}}},
        {"transform": [{"fold": ["fonction", "personne"], "as": ["serie", "taux"]}, {"aggregate": [{"op": "count", "as": "n"}], "groupby": ["serie"]}],
         "mark": {"type": "rect", "fill": "#ffffff", "stroke": "#000000", "strokeWidth": 0.8},
         "encoding": {
          "x": {"datum": "legende", "type": "nominal", "scale": {"type": "band", "domain": ["legende"], "range": [10, 62], "paddingInner": 0, "paddingOuter": 0}, "axis": null},
          "y": {"field": "serie", "type": "nominal", "scale": {"type": "band", "domain": ["fonction", "personne"], "range": [115, 135], "paddingInner": 0, "paddingOuter": 0}, "axis": null}}},
        {"mark": {"type": "text", "fontSize": 5.5, "color": "#333399", "baseline": "middle", "align": "center"},
         "encoding": {
          "x": {"field": "cat", "type": "nominal", "bandPosition": 0.5, "scale": {"type": "band", "domain": ["L'histoire", "L'action", "La relation", "La pensée", "Le métier", "Les personnes"], "range": [62, 437], "paddingInner": 0, "paddingOuter": 0}, "axis": null},
          "y": {"datum": "entete", "type": "nominal", "bandPosition": 0.5, "scale": {"type": "band", "domain": ["entete"], "range": [106, 115], "paddingInner": 0, "paddingOuter": 0}, "axis": null},
          "text": {"field": "cat"}}},
        {"transform": [{"fold": ["fonction", "personne"], "as": ["serie", "taux"]}],
         "mark": {"type": "text", "fontSize": 5.5, "color": "#333399", "baseline": "middle", "align": "center"},
         "encoding": {
          "x": {"field": "cat", "type": "nominal", "bandPosition": 0.5, "scale": {"type": "band", "domain": ["L'histoire", "L'action", "La relation", "La pensée", "Le métier", "Les personnes"], "range": [62, 437], "paddingInner": 0, "paddingOuter": 0}, "axis": null},
          "y": {"field": "serie", "type": "nominal", "bandPosition": 0.5, "scale": {"type": "band", "domain": ["fonction", "personne"], "range": [115, 135], "paddingInner": 0, "paddingOuter": 0}, "axis": null},
          "text": {"field": "taux", "type": "quantitative", "format": ".2%"}}}
       ]
      }
     ]
    }
   ]
  }
 ]
 }
 ]
},
{
 "title": {"text": "Copyright 5W - 2009", "anchor": "end", "fontSize": 12, "fontWeight": "bold", "offset": 2, "color": "#000000"},
 "spacing": 12,
 "vconcat": [
  {
   "width": 461, "height": 80,
   "view": {"stroke": "#000000", "strokeWidth": 2.5, "fill": "#CCFFFF"},
   "title": {"text": "29/03/2010", "anchor": "start", "offset": -17, "fontSize": 12, "fontWeight": "normal", "color": "#000000", "dx": 2},
   "data": {"values": [{"nom": "Vigne", "prenom": "Violette", "fonction": "MANAGER", "debut": "10/03/2007", "fin": "07/11/2006", "score": 0.19}]},
   "layer": [
    {"mark": {"type": "text", "text": "RAPPORT", "fontSize": 13, "fontWeight": "bold", "color": "#000000"},
     "encoding": {"x": {"datum": "M", "type": "nominal", "scale": {"type": "point", "domain": ["L", "M", "R"], "range": [182, 254], "padding": 0}, "axis": null},
                  "y": {"datum": "r1", "type": "nominal", "scale": {"type": "point", "domain": ["r1", "r2", "r3", "r4"], "range": [11, 67], "padding": 0}, "axis": null}}},
    {"mark": {"type": "text", "align": "right", "fontSize": 12, "color": "#228B22"},
     "encoding": {"x": {"datum": "L", "type": "nominal"}, "y": {"datum": "r2", "type": "nominal"}, "text": {"field": "nom"}}},
    {"mark": {"type": "text", "align": "right", "fontSize": 12, "color": "#228B22"},
     "encoding": {"x": {"datum": "L", "type": "nominal"}, "y": {"datum": "r3", "type": "nominal"}, "text": {"field": "prenom"}}},
    {"mark": {"type": "text", "text": "/", "fontSize": 12, "fontWeight": "bold", "fontStyle": "italic", "color": "#000080", "dx": -2},
     "encoding": {"x": {"datum": "M", "type": "nominal"}, "y": {"datum": "r2", "type": "nominal"}}},
    {"mark": {"type": "text", "align": "left", "fontSize": 12, "fontWeight": "bold", "color": "#FF0000"},
     "encoding": {"x": {"datum": "R", "type": "nominal"}, "y": {"datum": "r2", "type": "nominal"}, "text": {"field": "fonction"}}},
    {"mark": {"type": "text", "text": "Fonction", "align": "left", "fontSize": 12, "fontWeight": "bold", "color": "#FF0000"},
     "encoding": {"x": {"datum": "R", "type": "nominal"}, "y": {"datum": "r3", "type": "nominal"}}},
    {"mark": {"type": "text", "align": "right", "fontSize": 9, "color": "#000000", "dx": -3, "dy": 3},
     "encoding": {"x": {"datum": "L", "type": "nominal"}, "y": {"datum": "r4", "type": "nominal"}, "text": {"field": "debut"}}},
    {"mark": {"type": "text", "fontSize": 21, "fontWeight": "bold", "color": "#000080"},
     "encoding": {"x": {"datum": "M", "type": "nominal"}, "y": {"datum": "r4", "type": "nominal"}, "text": {"field": "score", "type": "quantitative", "format": ".0%"}}},
    {"mark": {"type": "text", "align": "left", "fontSize": 9, "color": "#000000", "dx": 6, "dy": 3},
     "encoding": {"x": {"datum": "R", "type": "nominal"}, "y": {"datum": "r4", "type": "nominal"}, "text": {"field": "fin"}}}
   ]
  },
  {
   "spacing": 19,
   "vconcat": [
    {
     "spacing": 13, "center": true,
     "vconcat": [
      {"spacing": 0, "hconcat": [
        {"width": 316, "height": 35, "view": {"fill": "#000080", "stroke": "#000000", "strokeWidth": 1},
         "data": {"values": [{"rubrique": "RAPPORT MOTIVATIONS"}]},
         "mark": {"type": "text", "color": "#ffffff", "fontSize": 12.5, "fontWeight": "bold"},
         "encoding": {"text": {"field": "rubrique"}}},
        {"width": 142, "height": 35, "view": {"fill": "#CCFFFF", "stroke": "#000000", "strokeWidth": 1.5},
         "data": {"values": [{"ecart": -0.0514}]},
         "mark": {"type": "text", "color": "#1F3A6E", "fontSize": 12.5, "fontWeight": "bold"},
         "encoding": {"text": {"field": "ecart", "type": "quantitative", "format": ".2%"}}}
      ]},
      {
       "width": 453, "height": 145,
       "view": {"stroke": "#33CCCC", "strokeWidth": 1.5, "cornerRadius": 10, "fill": "#ffffff"},
       "data": {"name": "m3"},
       "resolve": {"scale": {"x": "independent", "y": "independent", "color": "independent", "strokeWidth": "independent"}},
       "layer": [
        {"transform": [{"aggregate": [{"op": "count", "as": "n"}]}],
         "mark": {"type": "rect", "fill": "#CCFFFF", "stroke": "#808080", "strokeWidth": 1},
         "encoding": {
          "x": {"datum": "zone", "type": "nominal", "scale": {"type": "band", "domain": ["zone"], "range": [63, 440], "paddingInner": 0, "paddingOuter": 0}, "axis": null},
          "y": {"datum": 0, "type": "quantitative", "scale": {"domain": [0, 1], "range": [98, 8], "nice": false, "zero": false}, "axis": null},
          "y2": {"datum": 1}}},
        {"transform": [{"filter": "datum.fonction > datum.personne"}],
         "mark": {"type": "bar", "width": 8, "stroke": "#FF0000", "strokeWidth": 2.5,
                  "fill": {"gradient": "linear", "x1": 0, "y1": 0, "x2": 1, "y2": 1, "stops": [{"offset": 0, "color": "#ffffff"}, {"offset": 0.4, "color": "#ffffff"}, {"offset": 0.4, "color": "#FF0000"}, {"offset": 0.58, "color": "#FF0000"}, {"offset": 0.58, "color": "#ffffff"}, {"offset": 1, "color": "#ffffff"}]}},
         "encoding": {
          "x": {"field": "cat", "type": "nominal", "scale": {"type": "point", "domain": ["Expertise", "Leadership", "Autonomie", "Sécurité", "Création\nentrepreneuriale", "Service / les autres", "Challenge", "Equilibre de vie"], "range": [63, 440], "padding": 0.5}, "axis": null},
          "y": {"field": "fonction", "type": "quantitative", "scale": {"domain": [0, 1], "range": [98, 8], "nice": false, "zero": false}, "axis": null},
          "y2": {"field": "personne"}}},
        {"transform": [{"filter": "datum.fonction <= datum.personne"}],
         "mark": {"type": "bar", "width": 8, "stroke": "#008000", "strokeWidth": 1,
                  "fill": {"gradient": "linear", "x1": 1, "y1": 0, "x2": 0, "y2": 1, "stops": [{"offset": 0, "color": "#3A9A3A"}, {"offset": 0.16, "color": "#3A9A3A"}, {"offset": 0.16, "color": "#ffffff"}, {"offset": 0.33, "color": "#ffffff"}, {"offset": 0.33, "color": "#3A9A3A"}, {"offset": 0.5, "color": "#3A9A3A"}, {"offset": 0.5, "color": "#ffffff"}, {"offset": 0.66, "color": "#ffffff"}, {"offset": 0.66, "color": "#3A9A3A"}, {"offset": 0.83, "color": "#3A9A3A"}, {"offset": 0.83, "color": "#ffffff"}, {"offset": 1, "color": "#ffffff"}]}},
         "encoding": {
          "x": {"field": "cat", "type": "nominal", "scale": {"type": "point", "domain": ["Expertise", "Leadership", "Autonomie", "Sécurité", "Création\nentrepreneuriale", "Service / les autres", "Challenge", "Equilibre de vie"], "range": [63, 440], "padding": 0.5}, "axis": null},
          "y": {"field": "fonction", "type": "quantitative", "scale": {"domain": [0, 1], "range": [98, 8], "nice": false, "zero": false}, "axis": null},
          "y2": {"field": "personne"}}},
        {"transform": [{"fold": ["fonction", "personne"], "as": ["serie", "taux"]}],
         "mark": {"type": "line", "interpolate": "catmull-rom"},
         "encoding": {
          "x": {"field": "cat", "type": "nominal", "sort": null, "scale": {"type": "point", "domain": ["Expertise", "Leadership", "Autonomie", "Sécurité", "Création\nentrepreneuriale", "Service / les autres", "Challenge", "Equilibre de vie"], "range": [63, 440], "padding": 0.5}, "axis": null},
          "y": {"field": "taux", "type": "quantitative", "scale": {"domain": [0, 1], "range": [98, 8], "nice": false, "zero": false},
                "axis": {"orient": "left", "offset": -63, "values": [0, 0.2, 0.4, 0.6, 0.8, 1], "format": ".0%", "title": null, "grid": false, "labelFontSize": 11, "labelColor": "#333399", "domainColor": "#000000", "tickColor": "#000000", "tickSize": 4, "labelPadding": 2}},
          "color": {"field": "serie", "type": "nominal", "scale": {"domain": ["fonction", "personne"], "range": ["#FF0000", "#009900"]},
                    "legend": {"orient": "none", "legendX": 11, "legendY": 115, "title": null, "symbolType": "stroke", "symbolSize": 484, "clipHeight": 9.5, "rowPadding": 0, "labelFontSize": 5.5, "labelColor": "#333399", "labelOffset": 1, "padding": 0, "labelExpr": "datum.value == 'fonction' ? 'MANAGER' : 'Vigne'"}},
          "strokeWidth": {"field": "serie", "type": "nominal", "scale": {"type": "point", "domain": ["fonction", "personne"], "range": [4, 1], "padding": 0},
                    "legend": {"orient": "none", "legendX": 11, "legendY": 115, "title": null, "symbolType": "stroke", "symbolSize": 484, "clipHeight": 9.5, "rowPadding": 0, "labelFontSize": 5.5, "labelColor": "#333399", "labelOffset": 1, "padding": 0, "labelExpr": "datum.value == 'fonction' ? 'MANAGER' : 'Vigne'"}}}},
        {"mark": {"type": "rect", "fill": "#ffffff", "stroke": "#000000", "strokeWidth": 0.8},
         "encoding": {
          "x": {"field": "cat", "type": "nominal", "scale": {"type": "band", "domain": ["Expertise", "Leadership", "Autonomie", "Sécurité", "Création\nentrepreneuriale", "Service / les autres", "Challenge", "Equilibre de vie"], "range": [63, 440], "paddingInner": 0, "paddingOuter": 0}, "axis": null},
          "y": {"datum": "entete", "type": "nominal", "scale": {"type": "band", "domain": ["entete"], "range": [98, 115], "paddingInner": 0, "paddingOuter": 0}, "axis": null}}},
        {"transform": [{"fold": ["fonction", "personne"], "as": ["serie", "taux"]}],
         "mark": {"type": "rect", "fill": "#ffffff", "stroke": "#000000", "strokeWidth": 0.8},
         "encoding": {
          "x": {"field": "cat", "type": "nominal", "scale": {"type": "band", "domain": ["Expertise", "Leadership", "Autonomie", "Sécurité", "Création\nentrepreneuriale", "Service / les autres", "Challenge", "Equilibre de vie"], "range": [63, 440], "paddingInner": 0, "paddingOuter": 0}, "axis": null},
          "y": {"field": "serie", "type": "nominal", "scale": {"type": "band", "domain": ["fonction", "personne"], "range": [115, 134], "paddingInner": 0, "paddingOuter": 0}, "axis": null}}},
        {"transform": [{"fold": ["fonction", "personne"], "as": ["serie", "taux"]}, {"aggregate": [{"op": "count", "as": "n"}], "groupby": ["serie"]}],
         "mark": {"type": "rect", "fill": "#ffffff", "stroke": "#000000", "strokeWidth": 0.8},
         "encoding": {
          "x": {"datum": "legende", "type": "nominal", "scale": {"type": "band", "domain": ["legende"], "range": [11, 63], "paddingInner": 0, "paddingOuter": 0}, "axis": null},
          "y": {"field": "serie", "type": "nominal", "scale": {"type": "band", "domain": ["fonction", "personne"], "range": [115, 134], "paddingInner": 0, "paddingOuter": 0}, "axis": null}}},
        {"mark": {"type": "text", "fontSize": 5.2, "color": "#333399", "lineBreak": "\n", "lineHeight": 6, "baseline": "middle", "align": "center"},
         "encoding": {
          "x": {"field": "cat", "type": "nominal", "bandPosition": 0.5, "scale": {"type": "band", "domain": ["Expertise", "Leadership", "Autonomie", "Sécurité", "Création\nentrepreneuriale", "Service / les autres", "Challenge", "Equilibre de vie"], "range": [63, 440], "paddingInner": 0, "paddingOuter": 0}, "axis": null},
          "y": {"datum": "entete", "type": "nominal", "bandPosition": 0.5, "scale": {"type": "band", "domain": ["entete"], "range": [98, 115], "paddingInner": 0, "paddingOuter": 0}, "axis": null},
          "text": {"field": "cat"}}},
        {"transform": [{"fold": ["fonction", "personne"], "as": ["serie", "taux"]}],
         "mark": {"type": "text", "fontSize": 5.5, "color": "#333399", "baseline": "middle", "align": "center"},
         "encoding": {
          "x": {"field": "cat", "type": "nominal", "bandPosition": 0.5, "scale": {"type": "band", "domain": ["Expertise", "Leadership", "Autonomie", "Sécurité", "Création\nentrepreneuriale", "Service / les autres", "Challenge", "Equilibre de vie"], "range": [63, 440], "paddingInner": 0, "paddingOuter": 0}, "axis": null},
          "y": {"field": "serie", "type": "nominal", "bandPosition": 0.5, "scale": {"type": "band", "domain": ["fonction", "personne"], "range": [115, 134], "paddingInner": 0, "paddingOuter": 0}, "axis": null},
          "text": {"field": "taux", "type": "quantitative", "format": ".2%"}}}
       ]
      }
     ]
    },
    {
     "spacing": 5, "center": true,
     "vconcat": [
      {"spacing": 0, "hconcat": [
        {"width": 316, "height": 35, "view": {"fill": "#000080", "stroke": "#000000", "strokeWidth": 1},
         "data": {"values": [{"rubrique": "RAPPORT VALEURS"}]},
         "mark": {"type": "text", "color": "#ffffff", "fontSize": 12.5, "fontWeight": "bold"},
         "encoding": {"text": {"field": "rubrique"}}},
        {"width": 142, "height": 35, "view": {"fill": "#CCFFFF", "stroke": "#000000", "strokeWidth": 1.5},
         "data": {"values": [{"ecart": 0.8925}]},
         "mark": {"type": "text", "color": "#1F3A6E", "fontSize": 12.5, "fontWeight": "bold"},
         "encoding": {"text": {"field": "ecart", "type": "quantitative", "format": ".2%"}}}
      ]},
      {
       "width": 453, "height": 144,
       "view": {"stroke": "#33CCCC", "strokeWidth": 1.5, "cornerRadius": 10, "fill": "#ffffff"},
       "data": {"name": "v3"},
       "resolve": {"scale": {"x": "independent", "y": "independent", "color": "independent", "strokeWidth": "independent"}},
       "layer": [
        {"transform": [{"aggregate": [{"op": "count", "as": "n"}]}],
         "mark": {"type": "rect", "fill": "#CCFFFF", "stroke": "#808080", "strokeWidth": 1},
         "encoding": {
          "x": {"datum": "zone", "type": "nominal", "scale": {"type": "band", "domain": ["zone"], "range": [61, 440], "paddingInner": 0, "paddingOuter": 0}, "axis": null},
          "y": {"datum": 0, "type": "quantitative", "scale": {"domain": [0, 1], "range": [107, 8], "nice": false, "zero": false}, "axis": null},
          "y2": {"datum": 1}}},
        {"transform": [{"filter": "datum.fonction > datum.personne"}],
         "mark": {"type": "bar", "width": 8, "stroke": "#FF0000", "strokeWidth": 2.5,
                  "fill": {"gradient": "linear", "x1": 0, "y1": 0, "x2": 1, "y2": 1, "stops": [{"offset": 0, "color": "#ffffff"}, {"offset": 0.4, "color": "#ffffff"}, {"offset": 0.4, "color": "#FF0000"}, {"offset": 0.58, "color": "#FF0000"}, {"offset": 0.58, "color": "#ffffff"}, {"offset": 1, "color": "#ffffff"}]}},
         "encoding": {
          "x": {"field": "cat", "type": "nominal", "scale": {"type": "point", "domain": ["L'histoire", "L'action", "La relation", "La pensée", "Le métier", "Les personnes"], "range": [61, 440], "padding": 0.5}, "axis": null},
          "y": {"field": "fonction", "type": "quantitative", "scale": {"domain": [0, 1], "range": [107, 8], "nice": false, "zero": false}, "axis": null},
          "y2": {"field": "personne"}}},
        {"transform": [{"filter": "datum.fonction <= datum.personne"}],
         "mark": {"type": "bar", "width": 8, "stroke": "#008000", "strokeWidth": 1,
                  "fill": {"gradient": "linear", "x1": 1, "y1": 0, "x2": 0, "y2": 1, "stops": [{"offset": 0, "color": "#3A9A3A"}, {"offset": 0.16, "color": "#3A9A3A"}, {"offset": 0.16, "color": "#ffffff"}, {"offset": 0.33, "color": "#ffffff"}, {"offset": 0.33, "color": "#3A9A3A"}, {"offset": 0.5, "color": "#3A9A3A"}, {"offset": 0.5, "color": "#ffffff"}, {"offset": 0.66, "color": "#ffffff"}, {"offset": 0.66, "color": "#3A9A3A"}, {"offset": 0.83, "color": "#3A9A3A"}, {"offset": 0.83, "color": "#ffffff"}, {"offset": 1, "color": "#ffffff"}]}},
         "encoding": {
          "x": {"field": "cat", "type": "nominal", "scale": {"type": "point", "domain": ["L'histoire", "L'action", "La relation", "La pensée", "Le métier", "Les personnes"], "range": [61, 440], "padding": 0.5}, "axis": null},
          "y": {"field": "fonction", "type": "quantitative", "scale": {"domain": [0, 1], "range": [107, 8], "nice": false, "zero": false}, "axis": null},
          "y2": {"field": "personne"}}},
        {"transform": [{"fold": ["fonction", "personne"], "as": ["serie", "taux"]}],
         "mark": {"type": "line", "interpolate": "catmull-rom"},
         "encoding": {
          "x": {"field": "cat", "type": "nominal", "sort": null, "scale": {"type": "point", "domain": ["L'histoire", "L'action", "La relation", "La pensée", "Le métier", "Les personnes"], "range": [61, 440], "padding": 0.5}, "axis": null},
          "y": {"field": "taux", "type": "quantitative", "scale": {"domain": [0, 1], "range": [107, 8], "nice": false, "zero": false},
                "axis": {"orient": "left", "offset": -61, "values": [0, 0.2, 0.4, 0.6, 0.8, 1], "format": ".0%", "title": null, "grid": false, "labelFontSize": 11, "labelColor": "#333399", "domainColor": "#000000", "tickColor": "#000000", "tickSize": 4, "labelPadding": 2}},
          "color": {"field": "serie", "type": "nominal", "scale": {"domain": ["fonction", "personne"], "range": ["#FF0000", "#009900"]},
                    "legend": {"orient": "none", "legendX": 10, "legendY": 116, "title": null, "symbolType": "stroke", "symbolSize": 484, "clipHeight": 10, "rowPadding": 0, "labelFontSize": 5.5, "labelColor": "#333399", "labelOffset": 1, "padding": 0, "labelExpr": "datum.value == 'fonction' ? 'MANAGER' : 'Vigne'"}},
          "strokeWidth": {"field": "serie", "type": "nominal", "scale": {"type": "point", "domain": ["fonction", "personne"], "range": [4, 1], "padding": 0},
                    "legend": {"orient": "none", "legendX": 10, "legendY": 116, "title": null, "symbolType": "stroke", "symbolSize": 484, "clipHeight": 10, "rowPadding": 0, "labelFontSize": 5.5, "labelColor": "#333399", "labelOffset": 1, "padding": 0, "labelExpr": "datum.value == 'fonction' ? 'MANAGER' : 'Vigne'"}}}},
        {"mark": {"type": "rect", "fill": "#ffffff", "stroke": "#000000", "strokeWidth": 0.8},
         "encoding": {
          "x": {"field": "cat", "type": "nominal", "scale": {"type": "band", "domain": ["L'histoire", "L'action", "La relation", "La pensée", "Le métier", "Les personnes"], "range": [61, 440], "paddingInner": 0, "paddingOuter": 0}, "axis": null},
          "y": {"datum": "entete", "type": "nominal", "scale": {"type": "band", "domain": ["entete"], "range": [107, 116], "paddingInner": 0, "paddingOuter": 0}, "axis": null}}},
        {"transform": [{"fold": ["fonction", "personne"], "as": ["serie", "taux"]}],
         "mark": {"type": "rect", "fill": "#ffffff", "stroke": "#000000", "strokeWidth": 0.8},
         "encoding": {
          "x": {"field": "cat", "type": "nominal", "scale": {"type": "band", "domain": ["L'histoire", "L'action", "La relation", "La pensée", "Le métier", "Les personnes"], "range": [61, 440], "paddingInner": 0, "paddingOuter": 0}, "axis": null},
          "y": {"field": "serie", "type": "nominal", "scale": {"type": "band", "domain": ["fonction", "personne"], "range": [116, 136], "paddingInner": 0, "paddingOuter": 0}, "axis": null}}},
        {"transform": [{"fold": ["fonction", "personne"], "as": ["serie", "taux"]}, {"aggregate": [{"op": "count", "as": "n"}], "groupby": ["serie"]}],
         "mark": {"type": "rect", "fill": "#ffffff", "stroke": "#000000", "strokeWidth": 0.8},
         "encoding": {
          "x": {"datum": "legende", "type": "nominal", "scale": {"type": "band", "domain": ["legende"], "range": [10, 61], "paddingInner": 0, "paddingOuter": 0}, "axis": null},
          "y": {"field": "serie", "type": "nominal", "scale": {"type": "band", "domain": ["fonction", "personne"], "range": [116, 136], "paddingInner": 0, "paddingOuter": 0}, "axis": null}}},
        {"mark": {"type": "text", "fontSize": 5.5, "color": "#333399", "baseline": "middle", "align": "center"},
         "encoding": {
          "x": {"field": "cat", "type": "nominal", "bandPosition": 0.5, "scale": {"type": "band", "domain": ["L'histoire", "L'action", "La relation", "La pensée", "Le métier", "Les personnes"], "range": [61, 440], "paddingInner": 0, "paddingOuter": 0}, "axis": null},
          "y": {"datum": "entete", "type": "nominal", "bandPosition": 0.5, "scale": {"type": "band", "domain": ["entete"], "range": [107, 116], "paddingInner": 0, "paddingOuter": 0}, "axis": null},
          "text": {"field": "cat"}}},
        {"transform": [{"fold": ["fonction", "personne"], "as": ["serie", "taux"]}],
         "mark": {"type": "text", "fontSize": 5.5, "color": "#333399", "baseline": "middle", "align": "center"},
         "encoding": {
          "x": {"field": "cat", "type": "nominal", "bandPosition": 0.5, "scale": {"type": "band", "domain": ["L'histoire", "L'action", "La relation", "La pensée", "Le métier", "Les personnes"], "range": [61, 440], "paddingInner": 0, "paddingOuter": 0}, "axis": null},
          "y": {"field": "serie", "type": "nominal", "bandPosition": 0.5, "scale": {"type": "band", "domain": ["fonction", "personne"], "range": [116, 136], "paddingInner": 0, "paddingOuter": 0}, "axis": null},
          "text": {"field": "taux", "type": "quantitative", "format": ".2%"}}}
       ]
      }
     ]
    }
   ]
  }
 ]
}
]
}
